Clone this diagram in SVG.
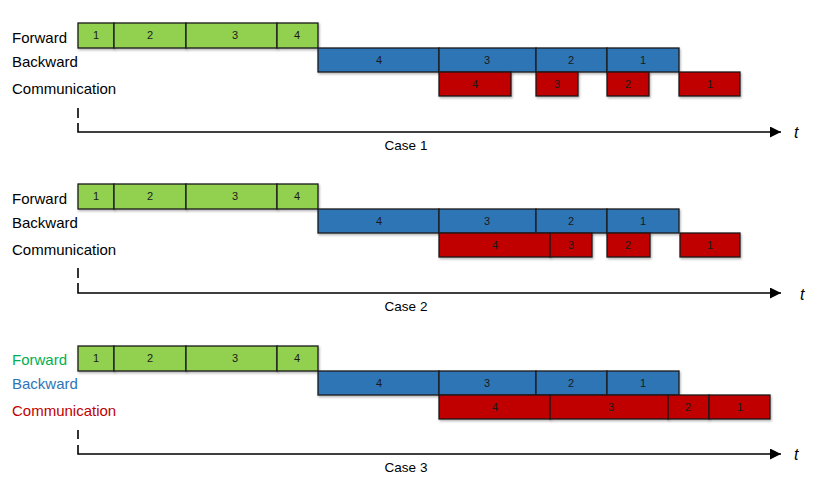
<svg xmlns="http://www.w3.org/2000/svg" width="830" height="494" viewBox="0 0 830 494">
<defs>
<filter id="sh" x="-10%" y="-20%" width="130%" height="160%">
<feDropShadow dx="1" dy="1.5" stdDeviation="1.2" flood-color="#000" flood-opacity="0.3"/>
</filter>
<marker id="arr" markerWidth="11" markerHeight="11" refX="11" refY="5.5" orient="auto" markerUnits="userSpaceOnUse">
<path d="M0,0 L11,5.5 L0,11 Z" fill="#000"/>
</marker>
</defs>
<style>
.f{fill:#92D050;stroke:#1a1a1a;stroke-width:1.3;filter:url(#sh)}
.b{fill:#2E75B6;stroke:#1a1a1a;stroke-width:1.3;filter:url(#sh)}
.c{fill:#C00000;stroke:#1a1a1a;stroke-width:1.3;filter:url(#sh)}
.n{font-family:"Liberation Sans",Arial,sans-serif;font-size:11px;fill:#1a1a1a;text-anchor:middle}
.lbl{font-family:"Liberation Sans",Arial,sans-serif;font-size:15px;fill:#000}
.cap{font-family:"Liberation Sans",Arial,sans-serif;font-size:13.5px;fill:#000;text-anchor:middle}
.t{font-family:"Liberation Sans",Arial,sans-serif;font-size:16px;font-style:italic;fill:#000}
.ax{fill:none;stroke:#000;stroke-width:1.6}
</style>

<!-- Row labels -->
<g id="labels">
<text class="lbl" x="12" y="43">Forward</text>
<text class="lbl" x="12" y="67">Backward</text>
<text class="lbl" x="12" y="94">Communication</text>
<text class="lbl" x="12" y="204">Forward</text>
<text class="lbl" x="12" y="228">Backward</text>
<text class="lbl" x="12" y="255">Communication</text>
<text class="lbl" x="12" y="365" style="fill:#00B050">Forward</text>
<text class="lbl" x="12" y="389" style="fill:#2E75B6">Backward</text>
<text class="lbl" x="12" y="416" style="fill:#C00000">Communication</text>
</g>

<!-- Case 1 -->
<g id="c1-f1"><rect class="f" x="78" y="23" width="36" height="25"/><text class="n" x="96" y="39">1</text></g>
<g id="c1-f2"><rect class="f" x="114" y="23" width="72" height="25"/><text class="n" x="150" y="39">2</text></g>
<g id="c1-f3"><rect class="f" x="186" y="23" width="91" height="25"/><text class="n" x="235" y="39">3</text></g>
<g id="c1-f4"><rect class="f" x="277" y="23" width="41" height="25"/><text class="n" x="297" y="39">4</text></g>
<g id="c1-b4"><rect class="b" x="318" y="48" width="121" height="24"/><text class="n" x="379" y="64">4</text></g>
<g id="c1-b3"><rect class="b" x="439" y="48" width="97" height="24"/><text class="n" x="487" y="64">3</text></g>
<g id="c1-b2"><rect class="b" x="536" y="48" width="71" height="24"/><text class="n" x="571" y="64">2</text></g>
<g id="c1-b1"><rect class="b" x="607" y="48" width="72" height="24"/><text class="n" x="643" y="64">1</text></g>
<g id="c1-c4"><rect class="c" x="439" y="72" width="72" height="24"/><text class="n" x="475" y="88">4</text></g>
<g id="c1-c3"><rect class="c" x="536" y="72" width="42" height="24"/><text class="n" x="557" y="88">3</text></g>
<g id="c1-c2"><rect class="c" x="607" y="72" width="42" height="24"/><text class="n" x="628" y="88">2</text></g>
<g id="c1-c1"><rect class="c" x="679" y="72" width="61" height="24"/><text class="n" x="710" y="88">1</text></g>

<!-- Case 2 -->
<g id="c2-f1"><rect class="f" x="78" y="184" width="36" height="25"/><text class="n" x="96" y="200">1</text></g>
<g id="c2-f2"><rect class="f" x="114" y="184" width="72" height="25"/><text class="n" x="150" y="200">2</text></g>
<g id="c2-f3"><rect class="f" x="186" y="184" width="91" height="25"/><text class="n" x="235" y="200">3</text></g>
<g id="c2-f4"><rect class="f" x="277" y="184" width="41" height="25"/><text class="n" x="297" y="200">4</text></g>
<g id="c2-b4"><rect class="b" x="318" y="209" width="121" height="24"/><text class="n" x="379" y="225">4</text></g>
<g id="c2-b3"><rect class="b" x="439" y="209" width="97" height="24"/><text class="n" x="487" y="225">3</text></g>
<g id="c2-b2"><rect class="b" x="536" y="209" width="71" height="24"/><text class="n" x="571" y="225">2</text></g>
<g id="c2-b1"><rect class="b" x="607" y="209" width="72" height="24"/><text class="n" x="643" y="225">1</text></g>
<g id="c2-c4"><rect class="c" x="439" y="233" width="111" height="24"/><text class="n" x="495" y="249">4</text></g>
<g id="c2-c3"><rect class="c" x="550" y="233" width="42" height="24"/><text class="n" x="571" y="249">3</text></g>
<g id="c2-c2"><rect class="c" x="607" y="233" width="43" height="24"/><text class="n" x="628" y="249">2</text></g>
<g id="c2-c1"><rect class="c" x="680" y="233" width="60" height="24"/><text class="n" x="710" y="249">1</text></g>

<!-- Case 3 -->
<g id="c3-f1"><rect class="f" x="78" y="346" width="36" height="25"/><text class="n" x="96" y="362">1</text></g>
<g id="c3-f2"><rect class="f" x="114" y="346" width="72" height="25"/><text class="n" x="150" y="362">2</text></g>
<g id="c3-f3"><rect class="f" x="186" y="346" width="91" height="25"/><text class="n" x="235" y="362">3</text></g>
<g id="c3-f4"><rect class="f" x="277" y="346" width="41" height="25"/><text class="n" x="297" y="362">4</text></g>
<g id="c3-b4"><rect class="b" x="318" y="371" width="121" height="24"/><text class="n" x="379" y="387">4</text></g>
<g id="c3-b3"><rect class="b" x="439" y="371" width="97" height="24"/><text class="n" x="487" y="387">3</text></g>
<g id="c3-b2"><rect class="b" x="536" y="371" width="71" height="24"/><text class="n" x="571" y="387">2</text></g>
<g id="c3-b1"><rect class="b" x="607" y="371" width="72" height="24"/><text class="n" x="643" y="387">1</text></g>
<g id="c3-c4"><rect class="c" x="439" y="395" width="111" height="24"/><text class="n" x="495" y="411">4</text></g>
<g id="c3-c3"><rect class="c" x="550" y="395" width="118" height="24"/><text class="n" x="611" y="411">3</text></g>
<g id="c3-c2"><rect class="c" x="668" y="395" width="41" height="24"/><text class="n" x="688" y="411">2</text></g>
<g id="c3-c1"><rect class="c" x="709" y="395" width="61" height="24"/><text class="n" x="740" y="411">1</text></g>

<!-- Axes -->
<g id="connectors">
<path class="ax" d="M78,108 V118 M78,123 V132 H781" marker-end="url(#arr)"/>
<path class="ax" d="M78,268 V278 M78,283 V293 H781" marker-end="url(#arr)"/>
<path class="ax" d="M78,430 V439 M78,445 V454 H781" marker-end="url(#arr)"/>
</g>

<g id="axis-labels">
<text class="t" x="794" y="138">t</text>
<text class="cap" x="406" y="150">Case 1</text>
<text class="t" x="800" y="300">t</text>
<text class="cap" x="406" y="311">Case 2</text>
<text class="t" x="794" y="460">t</text>
<text class="cap" x="406" y="472">Case 3</text>
</g>
</svg>
